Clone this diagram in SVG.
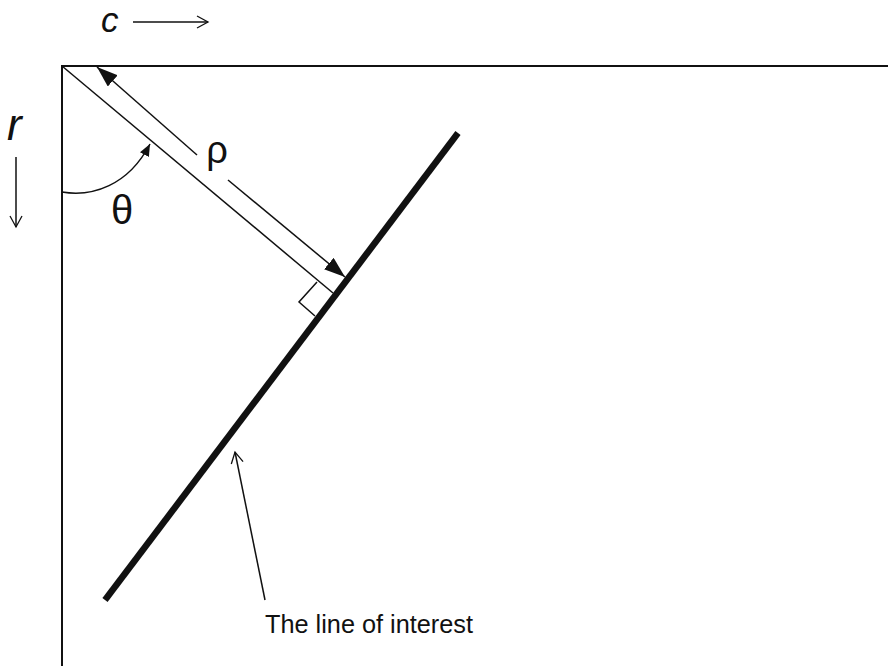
<svg xmlns="http://www.w3.org/2000/svg" width="888" height="666" viewBox="0 0 888 666">
<style>
.frame{stroke:#111;stroke-width:2;fill:none}
.thin{stroke:#111;stroke-width:1.5;fill:none}
.thick{stroke:#111;stroke-width:6.5;fill:none;stroke-linecap:butt}
.lbl{font-family:"Liberation Sans",Arial,sans-serif;fill:#111}
.ital{font-style:italic}
</style>
<defs>
<marker id="solid" markerUnits="userSpaceOnUse" markerWidth="22" markerHeight="16" refX="21" refY="7.5" orient="auto-start-reverse" viewBox="0 0 22 16">
<path d="M0,0 L21,7.5 L0,15 z" fill="#111"/>
</marker>
<marker id="small" markerUnits="userSpaceOnUse" markerWidth="13" markerHeight="11" refX="12" refY="5" orient="auto" viewBox="0 0 13 11">
<path d="M0,0 L12,5 L0,10 z" fill="#111"/>
</marker>
<marker id="open" markerUnits="userSpaceOnUse" markerWidth="14" markerHeight="16" refX="12" refY="7" orient="auto" viewBox="0 0 14 16">
<path d="M1,1 L12,7 L1,13" fill="none" stroke="#111" stroke-width="1.3"/>
</marker>
</defs>
<rect width="888" height="666" fill="#fff"/>

<g id="axes">
<text class="lbl ital" x="101" y="32" font-size="35">c</text>
<line class="thin" x1="133" y1="22" x2="208" y2="22" marker-end="url(#open)"/>
<text class="lbl ital" x="7" y="140" font-size="44">r</text>
<line class="thin" x1="16" y1="157" x2="16" y2="227" marker-end="url(#open)"/>
</g>

<g id="frame">
<polyline class="frame" points="888,66 62,66 62,666"/>
</g>

<g id="normal">
<line class="thin" x1="62" y1="66" x2="333" y2="293"/>
<polyline class="thin" points="317,282 299,302 315,316"/>
</g>

<g id="line-of-interest">
<line class="thick" x1="458" y1="133" x2="105" y2="600"/>
</g>

<g id="connectors">
<line class="thin" x1="197" y1="155" x2="97" y2="67" marker-end="url(#solid)"/>
<line class="thin" x1="228" y1="180" x2="345" y2="277" marker-end="url(#solid)"/>
<path class="thin" d="M62,192 C92,197 128,186 150,144" marker-end="url(#small)"/>
<line class="thin" x1="265" y1="600" x2="235" y2="452" marker-end="url(#open)"/>
</g>

<g id="labels">
<text class="lbl" x="217" y="163" font-size="38" text-anchor="middle">ρ</text>
<text class="lbl" x="122" y="224" font-size="40" text-anchor="middle">θ</text>
<text class="lbl" x="265" y="633" font-size="26" textLength="208" lengthAdjust="spacingAndGlyphs">The line of interest</text>
</g>
</svg>
